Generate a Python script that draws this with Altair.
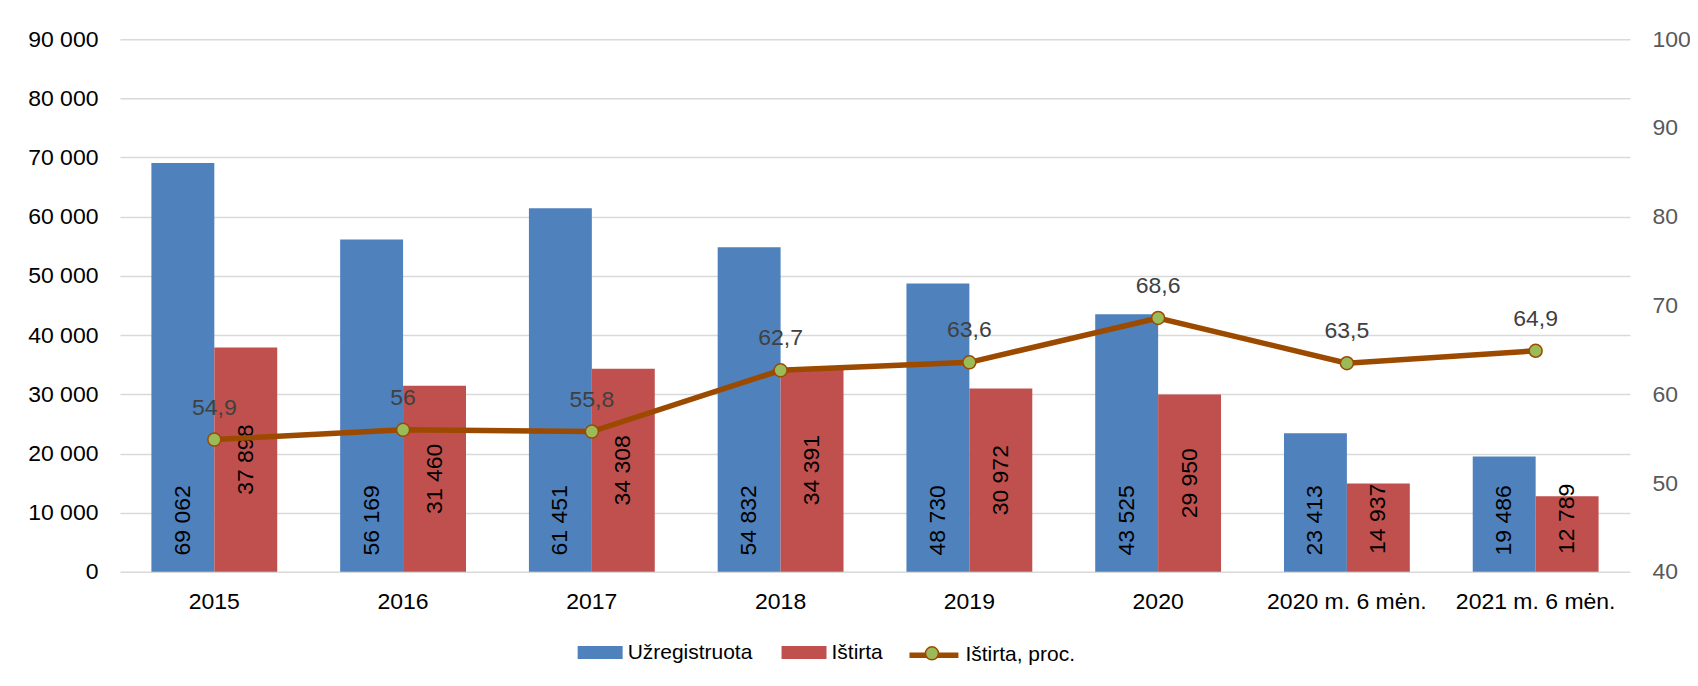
import altair as alt
import pandas as pd

categories = ["2015", "2016", "2017", "2018", "2019", "2020", "2020 m. 6 mėn.", "2021 m. 6 mėn."]
registered = [69062, 56169, 61451, 54832, 48730, 43525, 23413, 19486]
investigated = [37898, 31460, 34308, 34391, 30972, 29950, 14937, 12789]
percent = [54.9, 56, 55.8, 62.7, 63.6, 68.6, 63.5, 64.9]

series_order = ["Užregistruota", "Ištirta"]
line_name = "Ištirta, proc."

rows = []
for c, r, i in zip(categories, registered, investigated):
    rows.append({"cat": c, "series": series_order[0], "idx": 0, "value": r})
    rows.append({"cat": c, "series": series_order[1], "idx": 1, "value": i})
bars_df = pd.DataFrame(rows)
line_df = pd.DataFrame({"cat": categories, "pct": percent, "s": line_name, "p": "pt"})

FONT = "Liberation Sans"
BLUE, RED = "#4F81BD", "#C0504D"
BROWN, GREEN = "#9C4A00", "#9BBB59"

x_enc = alt.X(
    "cat:N", sort=categories,
    scale=alt.Scale(paddingInner=1 / 3, paddingOuter=1 / 6),
    axis=alt.Axis(title=None, labelAngle=0, labelPadding=19, ticks=False, domain=False,
                  labelFontSize=23, labelColor="black", labelFont=FONT),
)
xoff = alt.XOffset("series:N", sort=series_order,
                   scale=alt.Scale(domain=series_order, paddingInner=0, paddingOuter=0))

y_left = alt.Y(
    "value:Q",
    scale=alt.Scale(domain=[0, 90000], nice=False),
    axis=alt.Axis(title=None, values=list(range(0, 90001, 10000)), format=",d",
                  grid=True, gridColor="#D9D9D9", gridWidth=1.5, ticks=False, domain=False,
                  labelFontSize=23, labelColor="black", labelPadding=22, labelFont=FONT),
)

bars = alt.Chart(bars_df).mark_bar().encode(
    x=x_enc,
    xOffset=xoff,
    y=y_left,
    color=alt.Color(
        "series:N",
        scale=alt.Scale(domain=series_order, range=[BLUE, RED]),
        legend=alt.Legend(
            orient="none", legendX=458, legendY=591, direction="horizontal", title=None,
            labelFontSize=21, labelColor="black", labelFont=FONT, labelOffset=5,
            columnPadding=29, padding=0,
            symbolType="M-1,-0.29L1,-0.29L1,0.29L-1,0.29Z", symbolSize=2025,
            symbolStrokeWidth=0,
        ),
    ),
)

bar_labels = alt.Chart(bars_df).transform_calculate(
    lpos="datum.idx === 0 ? 8700 : max(datum.value / 2, 8950)"
).mark_text(angle=270, align="center", baseline="middle", fontSize=23,
            color="black", font=FONT).encode(
    x=alt.X("cat:N", sort=categories),
    xOffset=xoff,
    y=alt.Y("lpos:Q"),
    text=alt.Text("value:Q", format=",d"),
)

y_right = alt.Y(
    "pct:Q",
    scale=alt.Scale(domain=[40, 100], nice=False),
    axis=alt.Axis(orient="right", title=None, values=list(range(40, 101, 10)), format="d",
                  grid=False, ticks=False, domain=False, labelFontSize=23,
                  labelColor="#595959", labelPadding=22, labelFont=FONT),
)

line = alt.Chart(line_df).mark_line(strokeWidth=5.5).encode(
    x=alt.X("cat:N", sort=categories),
    y=y_right,
    stroke=alt.Stroke(
        "s:N",
        scale=alt.Scale(domain=[line_name], range=[BROWN]),
        legend=alt.Legend(
            orient="none", legendX=787, legendY=589, direction="horizontal", title=None,
            labelFontSize=21, labelColor="black", labelFont=FONT, labelOffset=4, padding=0,
            symbolType="stroke", symbolSize=2401, symbolStrokeWidth=5.5,
        ),
    ),
)

points = alt.Chart(line_df).mark_point(
    filled=True, size=169, shape="circle", stroke=BROWN, strokeWidth=1.5, opacity=1
).encode(
    x=alt.X("cat:N", sort=categories),
    y=alt.Y("pct:Q"),
    fill=alt.Fill(
        "p:N",
        scale=alt.Scale(domain=["pt"], range=[GREEN]),
        legend=alt.Legend(
            orient="none", legendX=805, legendY=607, title=None, labelExpr="''",
            labelFontSize=1, padding=0, symbolType="circle", symbolSize=169,
            symbolStrokeColor=BROWN, symbolStrokeWidth=1.5, symbolOpacity=1,
        ),
    ),
)

pct_labels = alt.Chart(line_df).mark_text(
    dy=-32, fontSize=23, color="#404040", font=FONT
).encode(
    x=alt.X("cat:N", sort=categories),
    y=alt.Y("pct:Q"),
    text=alt.Text("pct:Q", format="~g"),
)

left = alt.layer(bars, bar_labels)
right = alt.layer(line, points, pct_labels)

chart = alt.layer(left, right).resolve_scale(y="independent").properties(
    width=1511, height=533,
    autosize=alt.AutoSizeParams(type="none"),
    padding={"left": 112, "top": 31, "right": 60, "bottom": 110},
).configure(
    font=FONT,
    locale={"number": {"decimal": ",", "thousands": " ", "grouping": [3], "currency": ["", " €"]}},
).configure_view(stroke=None)

chart.save("out.html", embed_options={"renderer": "svg", "actions": False})
